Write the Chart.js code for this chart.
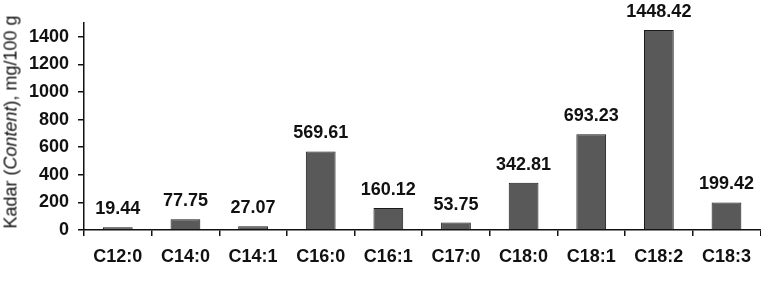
<!DOCTYPE html>
<html>
  <head>
    <meta charset="utf-8">
    <title>Kadar asam lemak</title>
    <style>
      html, body { margin: 0; padding: 0; background: #fff; }
      #rame { position: relative; width: 761px; height: 286px; }
      #ytitle {
        position: absolute; left: 11px; top: 122px;
        transform: translate(-50%, -50%) rotate(-90deg);
        white-space: nowrap;
        font-family: "Liberation Sans", Arial, sans-serif;
        font-size: 18px; color: #111;
      }
    </style>
  </head>
  <body>
    <div id="rame">
      <canvas id="chart" width="761" height="286"></canvas>
      <div id="ytitle">Kadar (<i>Content</i>), mg/100 g</div>
    </div>

    <script src="https://cdn.jsdelivr.net/npm/chart.js"></script>
    <script>
      const categories = ['C12:0', 'C14:0', 'C14:1', 'C16:0', 'C16:1', 'C17:0', 'C18:0', 'C18:1', 'C18:2', 'C18:3'];
      const kadar = [19.44, 77.75, 27.07, 569.61, 160.12, 53.75, 342.81, 693.23, 1448.42, 199.42];
      const yTicks = [0, 200, 400, 600, 800, 1000, 1200, 1400];

      const font = 'Liberation Sans, Arial, sans-serif';

      // value written above each bar
      const valueLabels = {
        id: 'valueLabels',
        afterDatasetsDraw(chart) {
          const ctx = chart.ctx;
          const meta = chart.getDatasetMeta(0);
          ctx.save();
          ctx.font = 'bold 18px ' + font;
          ctx.fillStyle = '#111';
          ctx.textAlign = 'center';
          ctx.textBaseline = 'middle';
          meta.data.forEach((bar, i) => {
            ctx.fillText(kadar[i].toFixed(2), bar.x, bar.y - 18);
          });
          ctx.restore();
        }
      };

      new Chart(document.getElementById('chart'), {
        type: 'bar',
        data: {
          labels: categories,
          datasets: [{
            data: kadar,
            backgroundColor: '#595959',
            borderColor: '#1a1a1a',
            borderWidth: 1,
            categoryPercentage: 1,
            barPercentage: 0.44
          }]
        },
        options: {
          responsive: false,
          animation: false,
          layout: { padding: { top: 23, right: 0, left: 0, bottom: 0 } },
          plugins: { legend: { display: false }, tooltip: { enabled: false } },
          scales: {
            x: {
              grid: { offset: true, drawOnChartArea: false, color: '#111', tickLength: 6, lineWidth: 1.5 },
              border: { color: '#111', width: 1.5 },
              ticks: { color: '#111', font: { family: font, size: 18, weight: 'bold' }, padding: 10, maxRotation: 0, autoSkip: false },
              afterFit(s) { s.height = 56; }
            },
            y: {
              min: 0, max: 1500,
              afterBuildTicks(s) { s.ticks = yTicks.map(v => ({ value: v })); },
              grid: { drawOnChartArea: false, color: '#111', tickLength: 6, lineWidth: 1.5 },
              border: { color: '#111', width: 1.5 },
              ticks: { color: '#111', font: { family: font, size: 18, weight: 'bold' }, padding: 9, callback: v => String(v) },
              afterFit(s) { s.width = 84; }
            }
          }
        },
        plugins: [valueLabels]
      });
    </script>
  </body>
</html>
